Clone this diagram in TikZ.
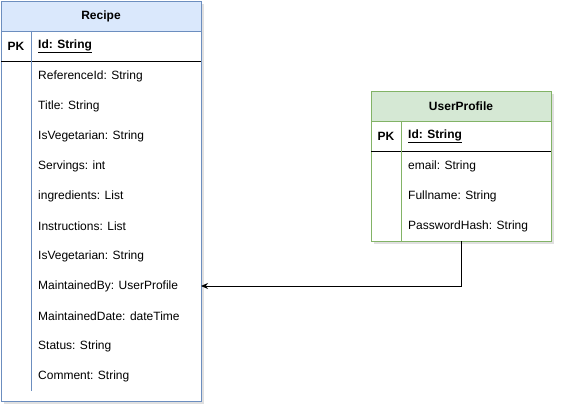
\documentclass[tikz,border=0pt]{standalone}
\usepackage{fontspec}
\setmainfont{Liberation Sans}
\usetikzlibrary{arrows.meta}
\definecolor{bluefill}{HTML}{DAE8FC}
\definecolor{bluestroke}{HTML}{6C8EBF}
\definecolor{greenfill}{HTML}{D5E8D4}
\definecolor{greenstroke}{HTML}{82B366}
\tikzset{
  txt/.style={font=\fontsize{12}{14}\selectfont, inner sep=0pt, anchor=west},
  hdr/.style={font=\fontsize{12}{14}\selectfont\bfseries, inner sep=0pt},
  pk/.style={font=\fontsize{12}{14}\selectfont\bfseries, inner sep=0pt},
  shadowbox/.style={fill=black, opacity=0.12, draw=none},
  conn/.style={draw=black, line width=1pt, -{Stealth[length=7pt,width=6pt]}}
}
\newcommand{\ul}[1]{\underline{#1}}
\begin{document}
\begin{tikzpicture}[x=1pt,y=-1pt]
\useasboundingbox (0,0) rectangle (562,412);
\fill[white] (0,0) rectangle (562,412);
% ---------- Recipe ----------
\fill[shadowbox] (4,4) rectangle (204,404);
\fill[white] (1,1) rectangle (201,401);
\fill[bluefill] (1,1) rectangle (201,31);
\draw[bluestroke] (1,1) rectangle (201,401);
\draw[bluestroke] (1,31) -- (201,31);
\draw[black] (1,61) -- (201,61);
\draw[bluestroke] (31,31) -- (31,61);
\draw[bluestroke] (31,61) -- (31,391);
\node[hdr] (rtitle) at (101,16) {Recipe};
\node[pk] (rpk) at (16,46) {PK};
\node[txt,font=\fontsize{12}{14}\selectfont\bfseries] (rid) at (38,46) {\ul{Id: String}};
\node[txt] (r1) at (38,76) {ReferenceId: String};
\node[txt] (r2) at (38,106) {Title: String};
\node[txt] (r3) at (38,136) {IsVegetarian: String};
\node[txt] (r4) at (38,166) {Servings: int};
\node[txt] (r5) at (38,196) {ingredients: List};
\node[txt] (r6) at (38,226) {Instructions: List};
\node[txt] (r7) at (38,256) {IsVegetarian: String};
\node[txt] (r8) at (38,286) {MaintainedBy: UserProfile};
\node[txt] (r9) at (38,316) {MaintainedDate: dateTime};
\node[txt] (r10) at (38,346) {Status: String};
\node[txt] (r11) at (38,376) {Comment: String};
\coordinate (recipeR) at (201,286);
% ---------- UserProfile ----------
\fill[shadowbox] (374,94) rectangle (554,244);
\fill[white] (371,91) rectangle (551,241);
\fill[greenfill] (371,91) rectangle (551,121);
\draw[greenstroke] (371,91) rectangle (551,241);
\draw[greenstroke] (371,121) -- (551,121);
\draw[black] (371,151) -- (551,151);
\draw[greenstroke] (401,121) -- (401,241);
\node[hdr] (utitle) at (461,106) {UserProfile};
\node[pk] (upk) at (386,136) {PK};
\node[txt,font=\fontsize{12}{14}\selectfont\bfseries] (uid) at (408,136) {\ul{Id: String}};
\node[txt] (u1) at (408,166) {email: String};
\node[txt] (u2) at (408,196) {Fullname: String};
\node[txt] (u3) at (408,226) {PasswordHash: String};
\coordinate (userB) at (461,241);
% ---------- connector ----------
\draw[conn] (userB) |- (recipeR);
\end{tikzpicture}
\end{document}
